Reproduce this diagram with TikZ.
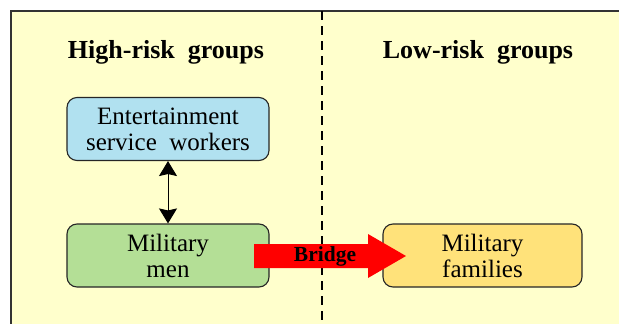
\documentclass[tikz,border=0pt]{standalone}
\usepackage{fontspec}
\setmainfont{Liberation Serif}
\usetikzlibrary{arrows.meta}
\definecolor{bg}{HTML}{FFFFCC}
\definecolor{bluebox}{HTML}{B1E1F0}
\definecolor{greenbox}{HTML}{B4DF96}
\definecolor{orangebox}{HTML}{FFE27A}
\begin{document}
\begin{tikzpicture}[x=1pt,y=-1pt,
  box/.style={draw=black!85, line width=1.1pt, rounded corners=10pt, minimum width=202pt, minimum height=63pt, align=center, font=\fontsize{25}{26}\selectfont, inner sep=0pt},
  heading/.style={font=\fontsize{26}{30}\selectfont\bfseries},
  >={Stealth[length=15pt,width=18pt,inset=2pt]}]
\useasboundingbox (0,0) rectangle (619,324);
\fill[bg] (11,11) rectangle (619,324);
\draw[line width=2pt, draw=black!80] (11,324) -- (11,11) -- (619,11);
\draw[dash pattern=on 9pt off 6pt, line width=1.2pt] (322,11) -- (322,324);
\node[heading] (hr) at (166,52) {High-risk\ \ groups};
\node[heading] (lr) at (478,52) {Low-risk\ \ groups};
\node[box, fill=bluebox] (esw) at (168,129) {Entertainment\\service\ \ workers};
\node[box, fill=greenbox] (mm) at (168,255.5) {Military\\men};
\node[box, fill=orangebox, minimum width=199pt] (mf) at (482.5,255.5) {Military\\families};
\draw[<->, line width=1pt] (esw) -- (mm);
\coordinate (bs) at (254,256);
\coordinate (bt) at (406,256);
\fill[red] (bs) ++(0,-12) -- ++(114,0) -- ++(0,-10) -- (bt) -- ++(-38,22) -- ++(0,-10) -- ++(-114,0) -- cycle;
\node[font=\fontsize{21.5}{24}\selectfont\bfseries] (br) at (325,256) {Bridge};
\end{tikzpicture}
\end{document}
